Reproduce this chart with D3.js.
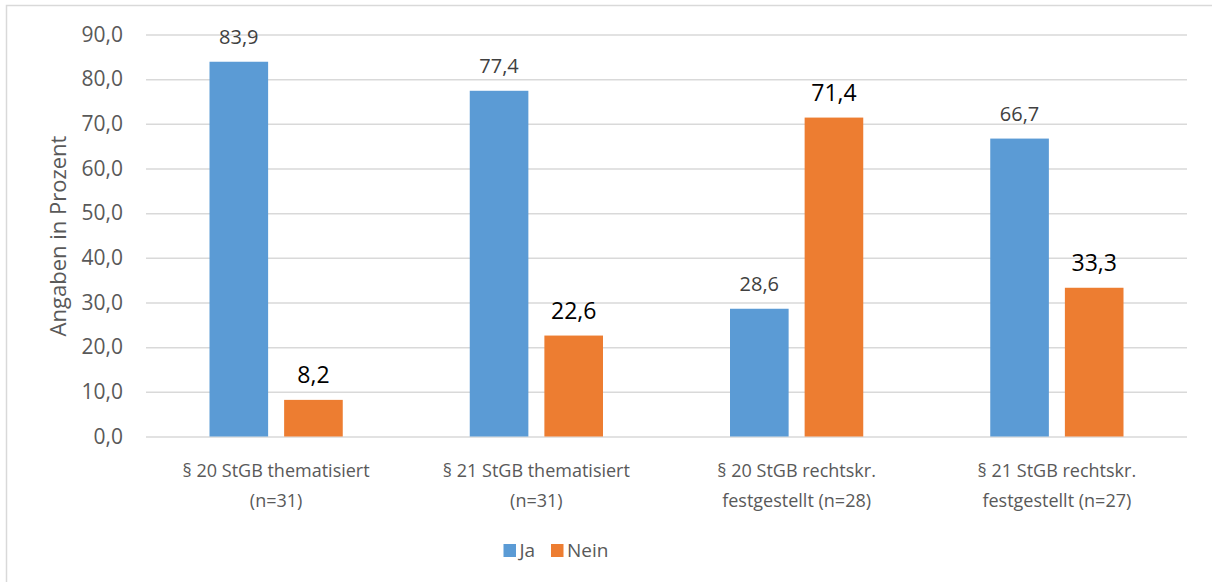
<!DOCTYPE html>
<html>
  <head>
    <meta charset="utf-8">
    <style>
      body {
        margin: 0;
        background-color: white;
      }
      text {
        font-family: "Open Sans", sans-serif;
      }
    </style>
    <script src="https://d3js.org/d3.v7.min.js"></script>
  </head>
  <body>
    <script>
    var width = 1212;
    var height = 582;

    // data
    var categories = [
      ["§ 20 StGB thematisiert", "(n=31)"],
      ["§ 21 StGB thematisiert", "(n=31)"],
      ["§ 20 StGB rechtskr.", "festgestellt (n=28)"],
      ["§ 21 StGB rechtskr.", "festgestellt (n=27)"]
    ];
    var seriesNames = ["Ja", "Nein"];
    var jaValues = [83.9, 77.4, 28.6, 66.7];
    var neinValues = [8.2, 22.6, 71.4, 33.3];
    var yTicks = [0, 10, 20, 30, 40, 50, 60, 70, 80, 90];

    var colors = {"Ja": "#5b9bd5", "Nein": "#ed7d31"};
    var fmt = function(v) { return v.toFixed(1).replace(".", ","); };

    var rows = categories.map(function(c, i) {
      return {cat: i, label: c, values: {"Ja": jaValues[i], "Nein": neinValues[i]}};
    });

    var plotLeft = 146, plotRight = 1187;
    var plotTop = 34.5, plotBottom = 436.5;

    const svg = d3.select("body").append("svg")
      .attr("width", width)
      .attr("height", height);

    // outer chart frame (runs off the right and bottom edge)
    svg.append("rect")
      .attr("x", 6.5)
      .attr("y", 5.5)
      .attr("width", 1260)
      .attr("height", 640)
      .attr("fill", "none")
      .attr("stroke", "#d9d9d9")
      .attr("stroke-width", 1.5);

    let yScale = d3.scaleLinear()
      .domain([0, 90])
      .range([plotBottom, plotTop]);

    let x0 = d3.scaleBand()
      .domain(d3.range(categories.length))
      .range([plotLeft, plotRight])
      .padding(0);

    let x1 = d3.scaleBand()
      .domain(seriesNames)
      .range([63.5, x0.bandwidth() - 63.5])
      .paddingInner(0.2145)
      .paddingOuter(0);

    // gridlines + y labels
    var yAxis = d3.axisLeft(yScale)
      .tickValues(yTicks)
      .tickSize(-(plotRight - plotLeft))
      .tickPadding(23)
      .tickFormat(fmt);

    var gy = svg.append("g")
      .attr("transform", "translate(" + plotLeft + ",0)")
      .call(yAxis);
    gy.select(".domain").remove();
    gy.selectAll("line")
      .attr("stroke", "#d9d9d9")
      .attr("stroke-width", 1.5);
    gy.selectAll("text")
      .attr("fill", "#595959")
      .style("font-size", "21px")
      .style("font-family", "'Open Sans', sans-serif");

    // bars
    var groups = svg.append("g")
      .selectAll("g")
      .data(rows)
      .enter().append("g")
        .attr("transform", function(d) { return "translate(" + x0(d.cat) + ",0)"; });

    groups.selectAll("rect")
      .data(function(d) { return seriesNames.map(function(s) { return {s: s, v: d.values[s]}; }); })
      .enter().append("rect")
        .attr("x", function(d) { return x1(d.s); })
        .attr("y", function(d) { return yScale(d.v); })
        .attr("width", x1.bandwidth())
        .attr("height", function(d) { return yScale(0) - yScale(d.v); })
        .attr("fill", function(d) { return colors[d.s]; });

    // value labels
    groups.selectAll("text")
      .data(function(d) { return seriesNames.map(function(s) { return {s: s, v: d.values[s]}; }); })
      .enter().append("text")
        .attr("x", function(d) { return x1(d.s) + x1.bandwidth() / 2; })
        .attr("y", function(d) { return yScale(d.v) - (d.s == "Ja" ? 18 : 17); })
        .attr("text-anchor", "middle")
        .attr("fill", function(d) { return d.s == "Ja" ? "#404040" : "#000000"; })
        .style("font-size", function(d) { return d.s == "Ja" ? "20px" : "23px"; })
        .text(function(d) { return fmt(d.v); });

    // category labels
    var catLabels = svg.append("g")
      .selectAll("text")
      .data(rows)
      .enter().append("text")
        .attr("x", function(d) { return x0(d.cat) + x0.bandwidth() / 2; })
        .attr("y", 477)
        .attr("text-anchor", "middle")
        .attr("fill", "#595959")
        .style("font-size", "18px");
    catLabels.selectAll("tspan")
      .data(function(d) { return d.label.map(function(l) { return {l: l, x: x0(d.cat) + x0.bandwidth() / 2}; }); })
      .enter().append("tspan")
        .attr("x", function(d) { return d.x; })
        .attr("dy", function(d, i) { return i == 0 ? 0 : 30; })
        .text(function(d) { return d.l; });

    // axis title
    svg.append("text")
      .attr("transform", "translate(66,236) rotate(-90)")
      .attr("text-anchor", "middle")
      .attr("fill", "#595959")
      .style("font-size", "22px")
      .text("Angaben in Prozent");

    // legend
    var legendX = [503.5, 551];
    var legend = svg.append("g")
      .selectAll("g")
      .data(seriesNames)
      .enter().append("g")
        .attr("transform", function(d, i) { return "translate(" + legendX[i] + ",544)"; });
    legend.append("rect")
      .attr("width", 12.5)
      .attr("height", 13)
      .attr("fill", function(d) { return colors[d]; });
    legend.append("text")
      .attr("x", 16)
      .attr("y", 13)
      .attr("fill", "#595959")
      .style("font-size", "19px")
      .text(function(d) { return d; });
    </script>
  </body>
</html>
